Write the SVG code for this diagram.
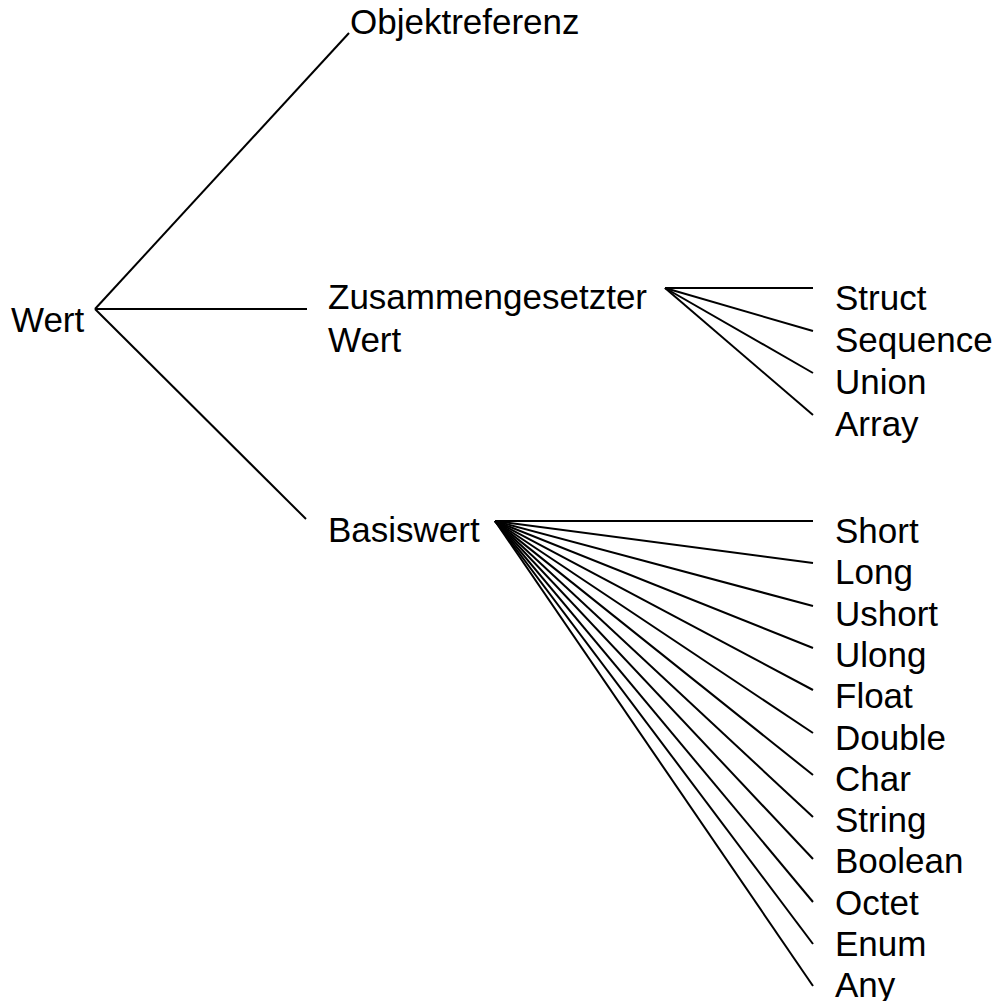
<svg xmlns="http://www.w3.org/2000/svg" width="1000" height="1001" viewBox="0 0 1000 1001">
  <style>
    .lbl { font-family: "Liberation Sans", Arial, sans-serif; font-size: 35px; fill: #000; }
    .edge { stroke: #000; stroke-width: 2; fill: none; }
  </style>
  <rect width="1000" height="1001" fill="#fff"/>

  <!-- connectors -->
  <g id="connectors" class="edge">
    <!-- root fan -->
    <line x1="95" y1="309" x2="349" y2="33"/>
    <line x1="95" y1="309" x2="307" y2="309"/>
    <line x1="95" y1="309" x2="306" y2="519"/>
    <!-- composite value fan -->
    <line x1="665" y1="288" x2="813" y2="288"/>
    <line x1="665" y1="288" x2="813" y2="331"/>
    <line x1="665" y1="288" x2="813" y2="373"/>
    <line x1="665" y1="288" x2="813" y2="415"/>
    <!-- basic value fan -->
    <line x1="495" y1="521" x2="813" y2="521"/>
    <line x1="495" y1="521" x2="813" y2="563"/>
    <line x1="495" y1="521" x2="813" y2="606"/>
    <line x1="495" y1="521" x2="813" y2="648"/>
    <line x1="495" y1="521" x2="813" y2="690"/>
    <line x1="495" y1="521" x2="813" y2="733"/>
    <line x1="495" y1="521" x2="813" y2="775"/>
    <line x1="495" y1="521" x2="813" y2="817"/>
    <line x1="495" y1="521" x2="813" y2="859"/>
    <line x1="495" y1="521" x2="813" y2="902"/>
    <line x1="495" y1="521" x2="813" y2="944"/>
    <line x1="495" y1="521" x2="813" y2="986"/>
  </g>

  <g id="wert"><text class="lbl" x="11" y="332">Wert</text></g>
  <g id="objektreferenz"><text class="lbl" x="350" y="34">Objektreferenz</text></g>
  <g id="zusammengesetzter-wert">
    <text class="lbl" x="328" y="309">Zusammengesetzter</text>
    <text class="lbl" x="328" y="352">Wert</text>
  </g>
  <g id="basiswert"><text class="lbl" x="328" y="542">Basiswert</text></g>

  <g id="struct"><text class="lbl" x="835" y="310">Struct</text></g>
  <g id="sequence"><text class="lbl" x="835" y="352">Sequence</text></g>
  <g id="union"><text class="lbl" x="835" y="394">Union</text></g>
  <g id="array"><text class="lbl" x="835" y="436">Array</text></g>

  <g id="short"><text class="lbl" x="835" y="543">Short</text></g>
  <g id="long"><text class="lbl" x="835" y="584">Long</text></g>
  <g id="ushort"><text class="lbl" x="835" y="626">Ushort</text></g>
  <g id="ulong"><text class="lbl" x="835" y="667">Ulong</text></g>
  <g id="float"><text class="lbl" x="835" y="708">Float</text></g>
  <g id="double"><text class="lbl" x="835" y="750">Double</text></g>
  <g id="char"><text class="lbl" x="835" y="791">Char</text></g>
  <g id="string"><text class="lbl" x="835" y="832">String</text></g>
  <g id="boolean"><text class="lbl" x="835" y="873">Boolean</text></g>
  <g id="octet"><text class="lbl" x="835" y="915">Octet</text></g>
  <g id="enum"><text class="lbl" x="835" y="956">Enum</text></g>
  <g id="any"><text class="lbl" x="835" y="997">Any</text></g>
</svg>
